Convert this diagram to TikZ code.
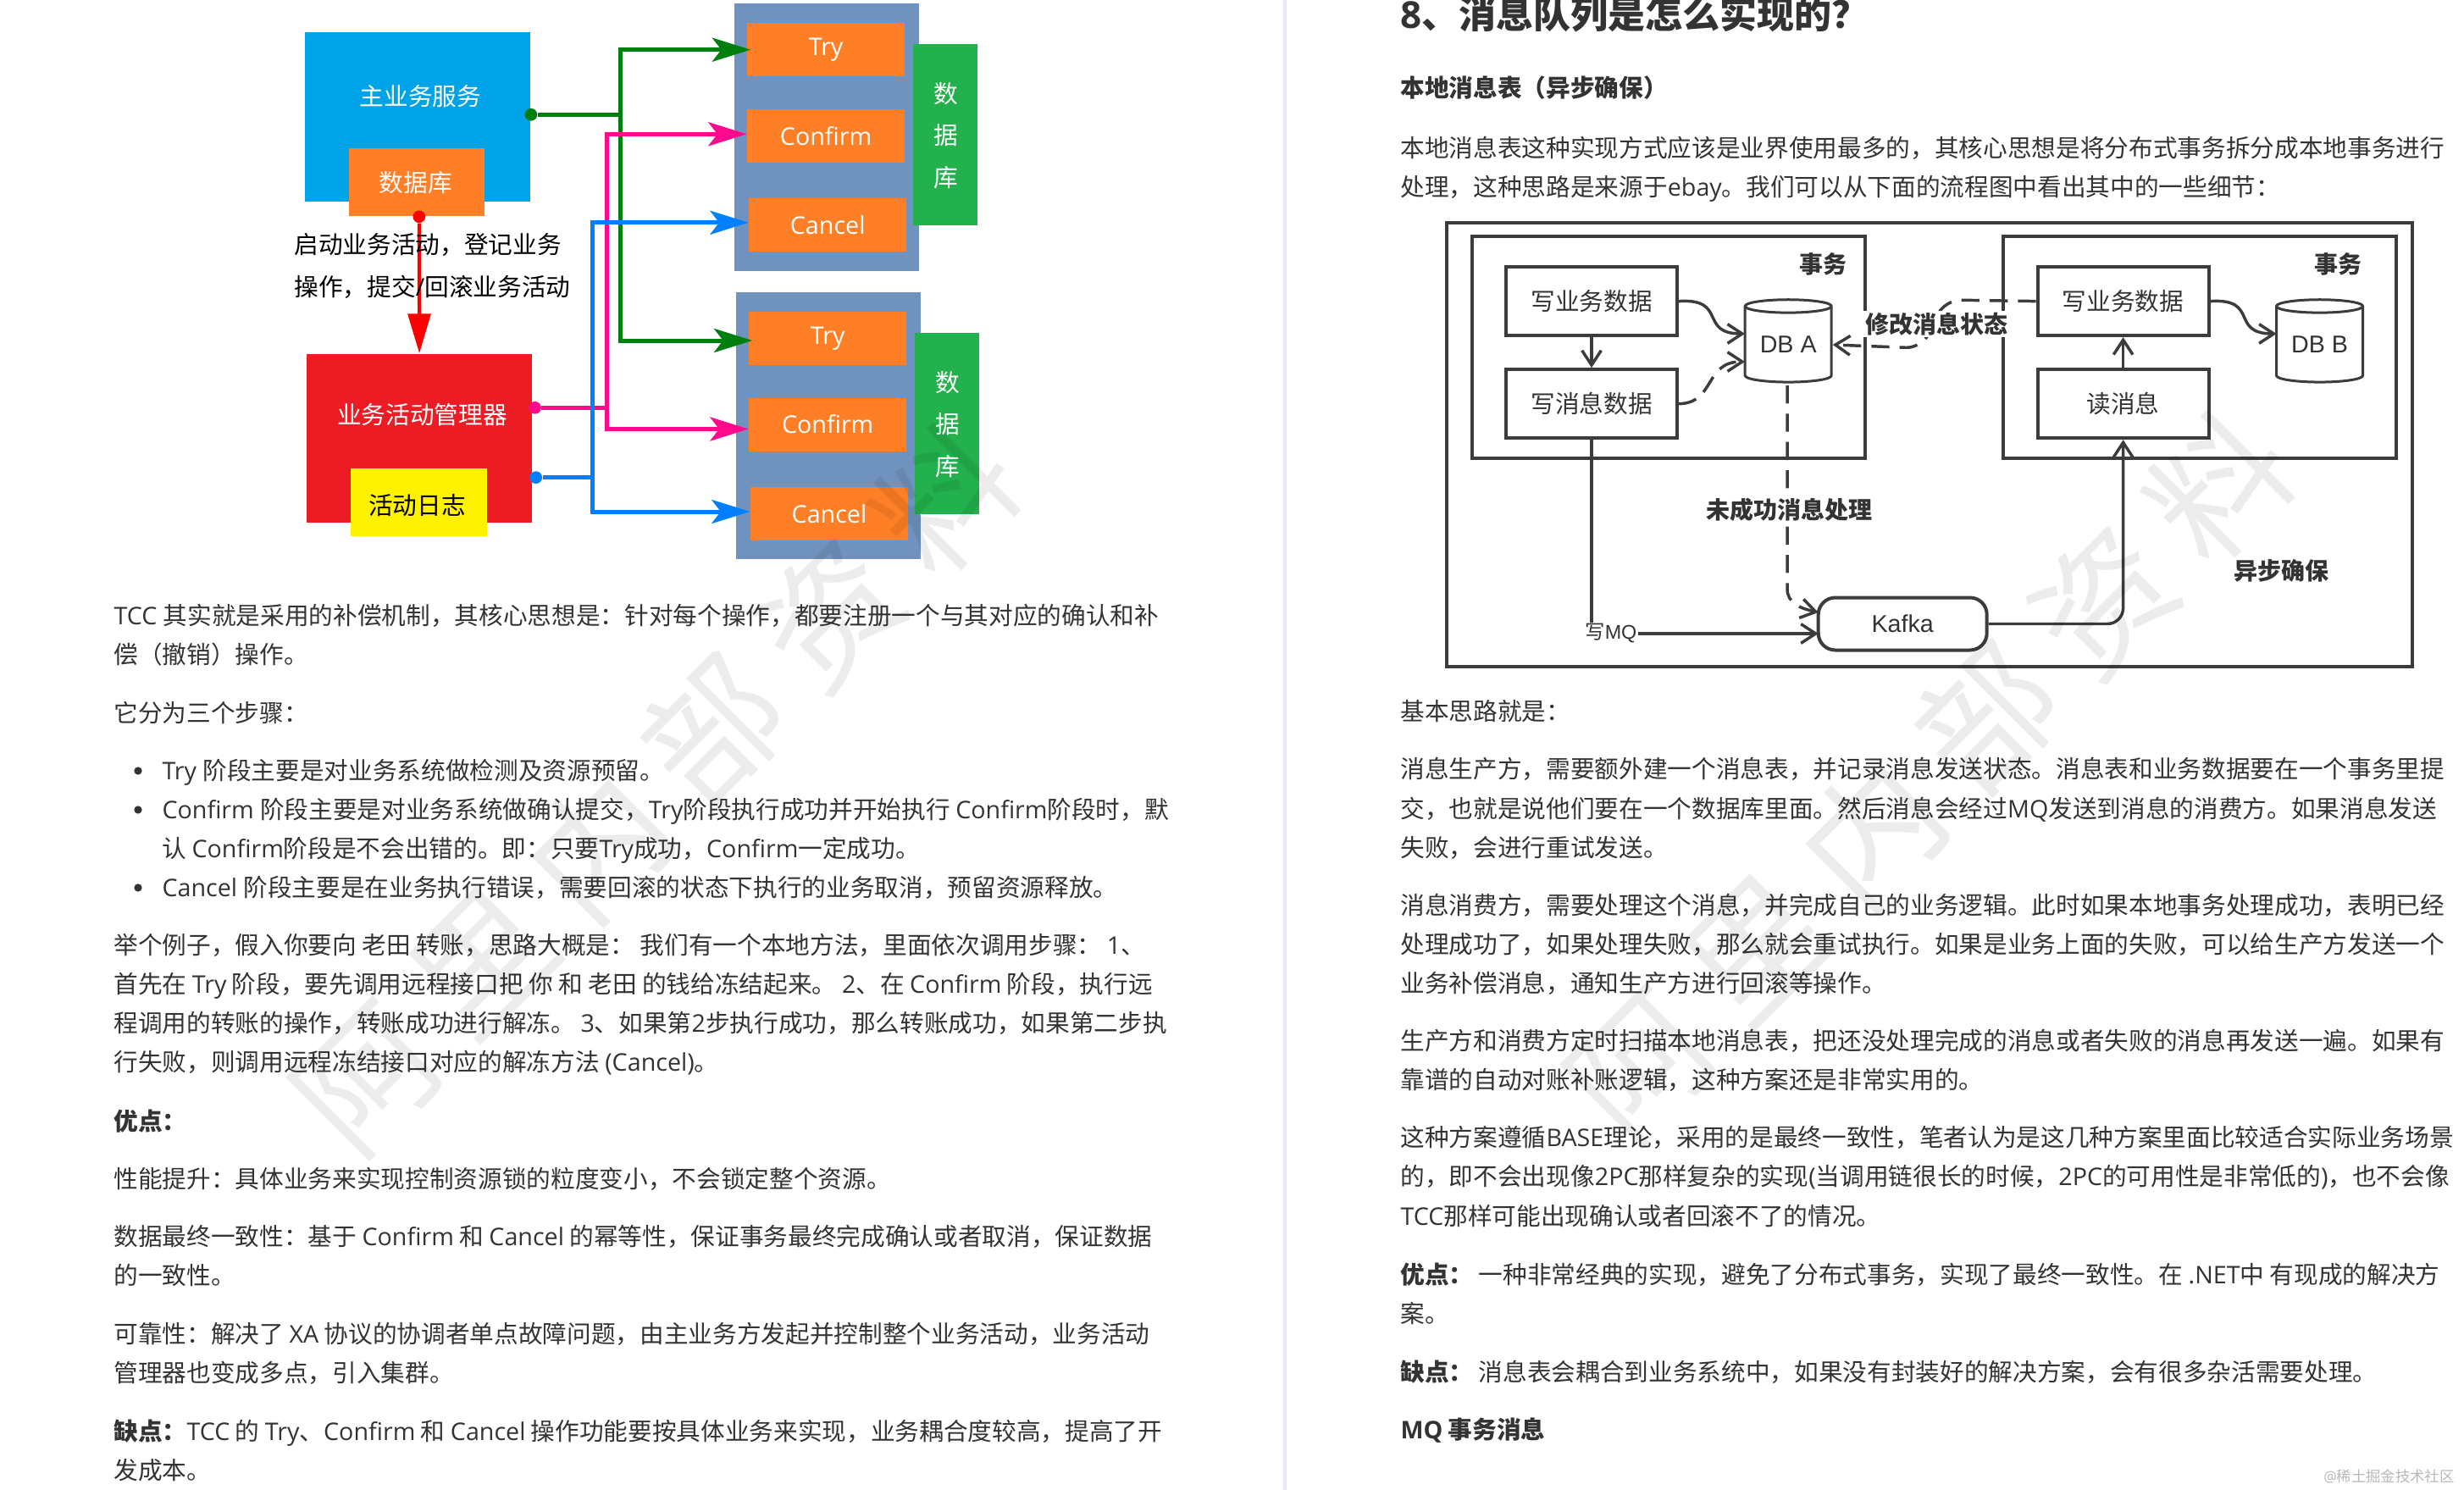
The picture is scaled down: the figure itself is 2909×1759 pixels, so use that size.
\documentclass[tikz,border=0pt]{standalone}
\usepackage{fontspec}
\usetikzlibrary{arrows.meta,shapes.geometric,calc}
\setmainfont{Noto Sans CJK SC}
\newfontfamily\latinfont{Open Sans}
\newfontfamily\arialfont{Liberation Sans}
\newcommand{\en}[1]{{\latinfont #1}}
\newcommand{\ar}[1]{{\arialfont #1}}

\definecolor{bodygray}{HTML}{333333}
\definecolor{skyblue}{HTML}{00A2E8}
\definecolor{boxorange}{HTML}{FF7F27}
\definecolor{boxred}{HTML}{ED1C24}
\definecolor{boxyellow}{HTML}{FFF200}
\definecolor{slateblue}{HTML}{7092BE}
\definecolor{dbgreen}{HTML}{22B14C}
\definecolor{tryarrow}{HTML}{007F0E}
\definecolor{confirmarrow}{HTML}{FF0A8C}
\definecolor{cancelarrow}{HTML}{0080FF}
\definecolor{flowgray}{HTML}{3C3C3C}
\definecolor{dividergray}{HTML}{E8EAF3}

\tikzset{every picture/.style={line width=0.75pt}}
\tikzset{
  pxbox/.style 2 args={minimum width=#1*0.75pt,minimum height=#2*0.75pt,inner sep=0pt},
  bodyline/.style={anchor=base west,inner sep=0pt,text=bodygray,font=\fontsize{21.5}{25}\selectfont},
  boldline/.style={bodyline,font=\fontsize{21.5}{25}\selectfont\bfseries},
  whitetext/.style={text=white,font=\fontsize{21.5}{25}\selectfont},
  stacktext/.style={text=white,align=center,font=\fontsize{21.5}{37.2}\selectfont},
  dotmark/.style={circle,inner sep=0pt,minimum size=11pt},
  tccline/.style={line width=3.75pt},
  tccarrow/.style={line width=3.75pt,-{Stealth[length=34pt,width=21pt,inset=8pt]}},
  flowbox/.style={draw=flowgray,line width=3pt},
  flow/.style={draw=flowgray,line width=2.6pt},
  flowarrow/.style={flow,-{Straight Barb[length=13pt,width=17pt,line width=2.6pt]}},
  flowdash/.style={flowarrow,dash pattern=on 16pt off 9pt},
  flowtext/.style={text=bodygray,inner sep=1.5pt,font=\fontsize{21.5}{25}\selectfont},
  flowbold/.style={flowtext,fill=white,font=\fontsize{21}{25}\selectfont\bfseries},
  dbcyl/.style={cylinder,shape border rotate=90,shape aspect=0.23,draw=flowgray,line width=2.25pt,fill=white},
  watermark/.style={rotate=45,inner sep=0pt,text=black,text opacity=0.075,font=\fontsize{120}{120}\selectfont},
}

\begin{document}
\begin{tikzpicture}[x=0.75pt,y=0.75pt,yscale=-1,xscale=1]
\useasboundingbox (0,0) rectangle (2909,1759);

%Shape: Divider
\fill [color=dividergray] (1515,0) rectangle (1519,1759);

%Shape: Main service
\draw (493.3,138) node (mainSvc) [fill=skyblue,pxbox={266}{199}] {};
\draw (492.2,214.7) node (mainDb) [fill=boxorange,pxbox={160}{80}] {};
%Shape: Activity manager
\draw (495.1,517.1) node (activityMgr) [fill=boxred,pxbox={266}{199}] {};
\draw (494.2,593.4) node (activityLog) [fill=boxyellow,pxbox={161}{80}] {};
%Shape: Upper group
\draw (976.3,162.1) node (groupA) [fill=slateblue,pxbox={218}{316}] {};
\draw (1116,158.9) node (dbStoreA) [fill=dbgreen,pxbox={76}{214},stacktext] {};
\draw (975.1,58.7) node (tryA) [fill=boxorange,pxbox={186}{63},whitetext] {\en{Try}};
\draw (975.1,160.2) node (confirmA) [fill=boxorange,pxbox={186}{63},whitetext] {\en{Confirm}};
\draw (977.2,265.7) node (cancelA) [fill=boxorange,pxbox={186}{63},whitetext] {\en{Cancel}};
%Shape: Lower group
\draw (978.1,502.8) node (groupB) [fill=slateblue,pxbox={218}{315}] {};
\draw (1117.8,500) node (dbStoreB) [fill=dbgreen,pxbox={76}{214},stacktext] {};
\draw (977.2,399.4) node (tryB) [fill=boxorange,pxbox={186}{63},whitetext] {\en{Try}};
\draw (977.2,501) node (confirmB) [fill=boxorange,pxbox={186}{63},whitetext] {\en{Confirm}};
\draw (979,606.4) node (cancelB) [fill=boxorange,pxbox={186}{63},whitetext] {\en{Cancel}};

%Straight Lines: green
\draw (626.9,135.3) node (mainDot) [dotmark,fill=tryarrow] {};
\coordinate (greenJoint) at (732.5,135.3);
\coordinate (tryBTip) at ($(tryB.west)+(0,2.6)$);
\draw [color=tryarrow,tccline] (mainDot) -- (greenJoint);
\draw [color=tryarrow,tccarrow,shorten >=-3.5pt] (greenJoint) |- (tryA.west);
\draw [color=tryarrow,tccarrow,shorten >=-3.5pt] (greenJoint) |- (tryBTip);
%Straight Lines: pink
\draw (631.6,481.3) node (confirmDot) [dotmark,fill=confirmarrow] {};
\coordinate (pinkJoint) at (716.7,481.3);
\coordinate (confirmATip) at ($(confirmA.west)+(0,-1.9)$);
\coordinate (confirmBTip) at ($(confirmB.west)+(0,5.5)$);
\draw [color=confirmarrow,tccline] (confirmDot) -- (pinkJoint);
\draw [color=confirmarrow,tccarrow] (pinkJoint) |- (confirmATip);
\draw [color=confirmarrow,tccarrow] (pinkJoint) |- (confirmBTip);
%Straight Lines: blue
\draw (632.7,563.7) node (cancelDot) [dotmark,fill=cancelarrow] {};
\coordinate (blueJoint) at (699,563.7);
\coordinate (cancelATip) at ($(cancelA.west)+(0,-2.9)$);
\coordinate (cancelBTip) at ($(cancelB.west)+(0,-2.4)$);
\draw [color=cancelarrow,tccline] (cancelDot) -- (blueJoint);
\draw [color=cancelarrow,tccarrow] (blueJoint) |- (cancelATip);
\draw [color=cancelarrow,tccarrow] (blueJoint) |- (cancelBTip);
%Straight Lines: red
\draw (494.8,255.8) node (dbDot) [dotmark,fill=red] {};
\draw [color=red,line width=3pt,-{Triangle[length=35pt,width=20pt]}] (dbDot) -- (activityMgr.north);

% Text Node
\draw (496.6,113.6) node (mainSvcText) [whitetext] {主业务服务};
\draw (490.7,215.5) node (mainDbText) [whitetext] {数据库};
\draw (498.4,490) node (activityMgrText) [whitetext] {业务活动管理器};
\draw (492.5,596.7) node (activityLogText) [text=black,font=\fontsize{21.5}{25}\selectfont] {活动日志};
\draw (347,299) node (startTextA) [bodyline,text=black] {启动业务活动，登记业务};
\draw (347,349) node (startTextB) [bodyline,text=black] {操作，提交\en{/}回滚业务活动};
\draw (1117,160) node (stackTextA) [stacktext] {数\\据\\库};
\draw (1118.7,501) node (stackTextB) [stacktext] {数\\据\\库};

%Shape: Outer frame
\draw (2278.3,525.2) node (frame) [flowbox,pxbox={1140}{524}] {};
\draw (1969.9,410) node (txnA) [flowbox,pxbox={464}{262}] {};
\draw (2597.2,410) node (txnB) [flowbox,pxbox={464}{262}] {};
\draw (1879,355.6) node (writeBizA) [flowbox,fill=white,pxbox={202}{81},flowtext] {写业务数据};
\draw (1879,476.7) node (writeMsg) [flowbox,fill=white,pxbox={202}{81},flowtext] {写消息数据};
\draw (2506.6,355.6) node (writeBizB) [flowbox,fill=white,pxbox={202}{81},flowtext] {写业务数据};
\draw (2506.6,476.7) node (readMsg) [flowbox,fill=white,pxbox={202}{81},flowtext] {读消息};
\draw (2111.2,407) node (dbA) [dbcyl,minimum width=76.5pt,minimum height=73pt,inner sep=0pt,text=bodygray,font=\fontsize{21.5}{25}\selectfont] {\raisebox{-3pt}{\ar{DB A}}};
\draw (2738.5,407) node (dbB) [dbcyl,minimum width=76.5pt,minimum height=73pt,inner sep=0pt,text=bodygray,font=\fontsize{21.5}{25}\selectfont] {\raisebox{-3pt}{\ar{DB B}}};
\draw (2246.2,736.5) node (kafka) [flowbox,fill=white,pxbox={199}{62},rounded corners=15pt,flowtext] {\ar{Kafka}};

%Curve Lines
\coordinate (dbAUpper) at (2060,394);
\coordinate (dbALower) at (2060,427);
\coordinate (dbBUpper) at (2687.6,394);
\coordinate (bendTop) at (2296,354);
\coordinate (bendLow) at (2269,411);
\coordinate (dbAFoot) at (2110,455);
\coordinate (kafkaUpper) at (2146.7,723);
\coordinate (kafkaLower) at (2146.7,748);
\draw [flowarrow] (writeBizA.east) .. controls (2040,352) and (2005,394) .. (dbAUpper);
\draw [flowarrow] (writeBizB.east) .. controls (2668,352) and (2632,394) .. (dbBUpper);
\draw [flowarrow] (writeBizA.south) -- (writeMsg.north);
\draw [flowarrow] (readMsg.north) -- (writeBizB.south);
\draw [flowdash] (writeMsg.east) .. controls (2025,476) and (2012,427) .. (dbALower);
\draw [flowdash,rounded corners=14pt] (writeBizB.west) -- (bendTop) -- (bendLow) -- (dbA.east);
\draw [flowdash] (dbAFoot) -- (2110,695) .. controls (2110,712) and (2125,718) .. (kafkaUpper);
\draw [flowarrow] (writeMsg.south) |- (kafkaLower);
\draw [flowarrow,rounded corners=14pt] (kafka.east) -| (readMsg.south);

% Text Node
\draw (2152.8,311.4) node (txnLabelA) [flowtext,font=\fontsize{21}{25}\selectfont\bfseries] {事务};
\draw (2760.4,311.4) node (txnLabelB) [flowtext,font=\fontsize{21}{25}\selectfont\bfseries] {事务};
\draw (2286,382.6) node (statusLabel) [flowbold] {修改消息状态};
\draw (2112.3,602) node (failLabel) [flowbold] {未成功消息处理};
\draw (2693.8,673.9) node (asyncLabel) [flowtext,font=\fontsize{21}{25}\selectfont\bfseries] {异步确保};
\draw (1901.9,748) node (mqLabel) [flowtext,fill=white,font=\fontsize{17.5}{20}\selectfont] {写\ar{MQ}};

% Text Node
\draw (134,737) node (leftA) [bodyline] {\en{TCC }其实就是采用的补偿机制，其核心思想是：针对每个操作，都要注册一个与其对应的确认和补};
\draw (134,783) node (leftB) [bodyline] {偿（撤销）操作。};
\draw (134,852) node (leftC) [bodyline] {它分为三个步骤：};
\draw (163,910) node (bulletA) [circle,fill=bodygray,inner sep=0pt,minimum size=7pt] {};
\draw (191,920) node (leftD) [bodyline] {\en{Try }阶段主要是对业务系统做检测及资源预留。};
\draw (163,956) node (bulletB) [circle,fill=bodygray,inner sep=0pt,minimum size=7pt] {};
\draw (191,966) node (leftE) [bodyline] {\en{Confirm }阶段主要是对业务系统做确认提交，\en{Try}阶段执行成功并开始执行 \en{Confirm}阶段时，默};
\draw (191,1012) node (leftF) [bodyline] {认 \en{Confirm}阶段是不会出错的。即：只要\en{Try}成功，\en{Confirm}一定成功。};
\draw (163,1048) node (bulletC) [circle,fill=bodygray,inner sep=0pt,minimum size=7pt] {};
\draw (191,1058) node (leftG) [bodyline] {\en{Cancel }阶段主要是在业务执行错误，需要回滚的状态下执行的业务取消，预留资源释放。};
\draw (134,1126) node (leftH) [bodyline] {举个例子，假入你要向 老田 转账，思路大概是： 我们有一个本地方法，里面依次调用步骤： \en{1}、};
\draw (134,1172) node (leftI) [bodyline] {首先在 \en{Try} 阶段，要先调用远程接口把 你 和 老田 的钱给冻结起来。 \en{2}、在 \en{Confirm} 阶段，执行远};
\draw (134,1218) node (leftJ) [bodyline] {程调用的转账的操作，转账成功进行解冻。 \en{3}、如果第\en{2}步执行成功，那么转账成功，如果第二步执};
\draw (134,1264) node (leftK) [bodyline] {行失败，则调用远程冻结接口对应的解冻方法 \en{(Cancel)}。};
\draw (134,1334) node (leftL) [boldline] {优点：};
\draw (134,1402) node (leftM) [bodyline] {性能提升：具体业务来实现控制资源锁的粒度变小，不会锁定整个资源。};
\draw (134,1470) node (leftN) [bodyline] {数据最终一致性：基于 \en{Confirm} 和 \en{Cancel} 的幂等性，保证事务最终完成确认或者取消，保证数据};
\draw (134,1516) node (leftO) [bodyline] {的一致性。};
\draw (134,1585) node (leftP) [bodyline] {可靠性：解决了 \en{XA} 协议的协调者单点故障问题，由主业务方发起并控制整个业务活动，业务活动};
\draw (134,1631) node (leftQ) [bodyline] {管理器也变成多点，引入集群。};
\draw (134,1700) node (leftR) [bodyline] {\textbf{缺点：}\en{TCC} 的 \en{Try}、\en{Confirm} 和 \en{Cancel} 操作功能要按具体业务来实现，业务耦合度较高，提高了开};
\draw (134,1746) node (leftS) [bodyline] {发成本。};

% Text Node
\draw (1653,34) node (rightHead) [bodyline,font=\fontsize{33}{38}\selectfont\bfseries] {\en{8}、消息队列是怎么实现的？};
\draw (1653,114) node (rightSub) [boldline] {本地消息表（异步确保）};
\draw (1653,185) node (rightA) [bodyline] {本地消息表这种实现方式应该是业界使用最多的，其核心思想是将分布式事务拆分成本地事务进行};
\draw (1653,231) node (rightB) [bodyline] {处理，这种思路是来源于\en{ebay}。我们可以从下面的流程图中看出其中的一些细节：};
\draw (1653,850) node (rightC) [bodyline] {基本思路就是：};
\draw (1653,918) node (rightD) [bodyline] {消息生产方，需要额外建一个消息表，并记录消息发送状态。消息表和业务数据要在一个事务里提};
\draw (1653,965) node (rightE) [bodyline] {交，也就是说他们要在一个数据库里面。然后消息会经过\en{MQ}发送到消息的消费方。如果消息发送};
\draw (1653,1011) node (rightF) [bodyline] {失败，会进行重试发送。};
\draw (1653,1079) node (rightG) [bodyline] {消息消费方，需要处理这个消息，并完成自己的业务逻辑。此时如果本地事务处理成功，表明已经};
\draw (1653,1125) node (rightH) [bodyline] {处理成功了，如果处理失败，那么就会重试执行。如果是业务上面的失败，可以给生产方发送一个};
\draw (1653,1171) node (rightI) [bodyline] {业务补偿消息，通知生产方进行回滚等操作。};
\draw (1653,1239) node (rightJ) [bodyline] {生产方和消费方定时扫描本地消息表，把还没处理完成的消息或者失败的消息再发送一遍。如果有};
\draw (1653,1285) node (rightK) [bodyline] {靠谱的自动对账补账逻辑，这种方案还是非常实用的。};
\draw (1653,1353) node (rightL) [bodyline] {这种方案遵循\en{BASE}理论，采用的是最终一致性，笔者认为是这几种方案里面比较适合实际业务场景};
\draw (1653,1399) node (rightM) [bodyline] {的，即不会出现像\en{2PC}那样复杂的实现\en{(}当调用链很长的时候，\en{2PC}的可用性是非常低的\en{)}，也不会像};
\draw (1653,1446) node (rightN) [bodyline] {\en{TCC}那样可能出现确认或者回滚不了的情况。};
\draw (1653,1515) node (rightO) [bodyline] {\textbf{优点：} 一种非常经典的实现，避免了分布式事务，实现了最终一致性。在 \en{.NET}中 有现成的解决方};
\draw (1653,1561) node (rightP) [bodyline] {案。};
\draw (1653,1630) node (rightQ) [bodyline] {\textbf{缺点：} 消息表会耦合到业务系统中，如果没有封装好的解决方案，会有很多杂活需要处理。};
\draw (1653,1698) node (rightR) [boldline] {\en{MQ} 事务消息};
\draw (2898,1749) node (credit) [anchor=base east,inner sep=0pt,text=black!28,font=\fontsize{13}{16}\selectfont] {\en{@}稀土掘金技术社区};

% Text Node
\draw (774,930) node (markLeft) [watermark] {阿\hspace{25pt}里\hspace{25pt}内\hspace{25pt}部\hspace{25pt}资\hspace{25pt}料};
\draw (2278,915) node (markRight) [watermark] {阿\hspace{25pt}里\hspace{25pt}内\hspace{25pt}部\hspace{25pt}资\hspace{25pt}料};

\end{tikzpicture}
\end{document}
